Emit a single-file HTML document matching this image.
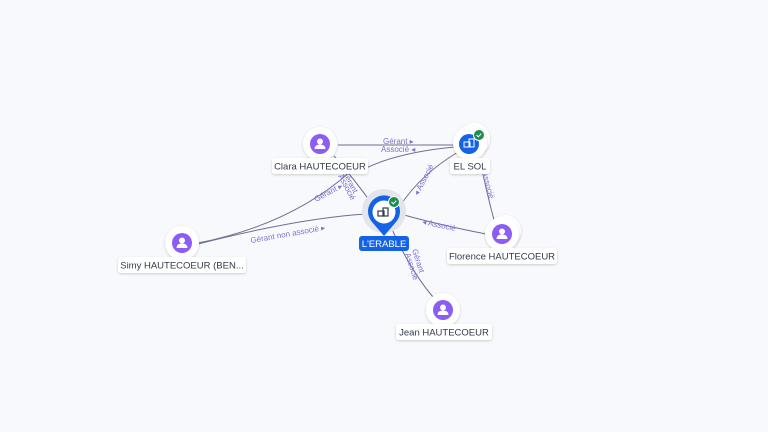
<!DOCTYPE html>
<html><head><meta charset="utf-8"><style>
html,body{margin:0;padding:0;background:#f8f9fc;}
svg{display:block;font-family:"Liberation Sans",sans-serif;}
.el{fill:none;stroke:#6b7090;stroke-width:1;}
.lb{font-size:8px;fill:#7c6fd6;}
.nl{font-size:9.5px;fill:#333a4a;}
</style></head><body>
<svg width="768" height="432" viewBox="0 0 768 432">
<defs>
<filter id="sh" x="-50%" y="-50%" width="200%" height="200%"><feDropShadow dx="0" dy="1" stdDeviation="1.2" flood-color="#000" flood-opacity="0.18"/></filter>
<g id="person"><circle r="17" fill="#fff" filter="url(#sh)"/><circle r="10" fill="#8b5cf6"/><circle cy="-2.5" r="3" fill="#fff"/><path d="M-5.5,5 Q-5.5,0.5 0,0.5 Q5.5,0.5 5.5,5 Z" fill="#fff"/></g>
</defs>
<rect width="768" height="432" fill="#f8f9fc"/>
<!-- edges -->
<path class="el" d="M338,145 L455,145"/>
<path class="el" d="M366,168 Q400,152 455,147"/>
<path class="el" d="M334,156 Q355,180 372,204"/>
<path class="el" d="M198,243 Q290,225 350,172"/>
<path class="el" d="M198,244 Q300,218 366,214"/>
<path class="el" d="M458,152 Q420,175 400,206"/>
<path class="el" d="M480,160 Q486,190 494,220"/>
<path class="el" d="M486,234 Q440,225 404,215"/>
<path class="el" d="M433,297 Q410,270 391,227"/>
<!-- edge labels -->
<text class="lb" x="383" y="144">Gérant ▸</text>
<text class="lb" x="381" y="152">Associé ◂</text>
<text class="lb" transform="translate(342,172) rotate(62)">Gérant</text>
<text class="lb" transform="translate(338,176) rotate(62)">Associé</text>
<text class="lb" transform="translate(316,202) rotate(-28)">Gérant ▸</text>
<text class="lb" x="250" y="238" transform="rotate(-10,280,235)">Gérant non associé ▸</text>
<text class="lb" transform="translate(418,196) rotate(-62)">◂ Associé</text>
<text class="lb" transform="translate(482,172) rotate(75)">Associé</text>
<text class="lb" transform="translate(422,224) rotate(12)">◂ Associé</text>
<text class="lb" transform="translate(412,250) rotate(72)">Gérant</text>
<text class="lb" transform="translate(405,254) rotate(72)">Associé</text>
<!-- Clara -->
<use href="#person" x="320" y="144"/>
<rect x="272" y="158" width="96" height="16" rx="3" fill="#fff" filter="url(#sh)"/>
<text class="nl" x="320" y="169.5" text-anchor="middle">Clara HAUTECOEUR</text>
<!-- EL SOL -->
<circle cx="474" cy="139" r="16" fill="#fff" filter="url(#sh)"/>
<circle cx="470" cy="143" r="17" fill="#fff" filter="url(#sh)"/>
<circle cx="469" cy="144" r="10" fill="#1463e6"/>
<rect x="464" y="142" width="6" height="5" fill="none" stroke="#fff" stroke-width="1"/><rect x="469" y="139" width="5" height="8" fill="none" stroke="#fff" stroke-width="1"/>
<circle cx="479" cy="135" r="5.5" fill="#1e8e4e" stroke="#fff" stroke-width="1"/>
<path d="M476.5,135 l1.8,1.8 l3,-3.2" stroke="#fff" fill="none" stroke-width="1"/>
<rect x="450" y="158" width="40" height="16" rx="3" fill="#fff" filter="url(#sh)"/>
<text class="nl" x="470" y="169.5" text-anchor="middle">EL SOL</text>
<!-- ERABLE -->
<circle cx="384" cy="211" r="22" fill="#e4e5ea"/>
<path d="M384,236 L372,222 A16,16 0 1 1 396,222 Z" fill="#1463e6"/>
<circle cx="384" cy="212" r="11.5" fill="#fff"/>
<rect x="378" y="211" width="6" height="5" fill="none" stroke="#333a4a" stroke-width="1.2"/><rect x="383" y="208" width="5" height="8" fill="none" stroke="#333a4a" stroke-width="1.2"/>
<circle cx="394" cy="202" r="5.5" fill="#1e8e4e" stroke="#fff" stroke-width="1"/>
<path d="M391.5,202 l1.8,1.8 l3,-3.2" stroke="#fff" fill="none" stroke-width="1"/>
<rect x="359" y="236" width="50" height="15" rx="3" fill="#1463e6"/>
<text x="384" y="247" text-anchor="middle" style="font-size:9.5px;fill:#fff">L'ERABLE</text>
<!-- Simy -->
<use href="#person" x="182" y="243"/>
<rect x="118" y="257" width="128" height="16" rx="3" fill="#fff" filter="url(#sh)"/>
<text class="nl" x="182" y="268.5" text-anchor="middle">Simy HAUTECOEUR (BEN...</text>
<!-- Florence -->
<circle cx="505" cy="231" r="16" fill="#fff" filter="url(#sh)"/>
<use href="#person" x="502" y="234"/>
<rect x="447" y="248" width="110" height="16" rx="3" fill="#fff" filter="url(#sh)"/>
<text class="nl" x="502" y="259.5" text-anchor="middle">Florence HAUTECOEUR</text>
<!-- Jean -->
<use href="#person" x="443" y="310"/>
<rect x="396" y="324" width="96" height="16" rx="3" fill="#fff" filter="url(#sh)"/>
<text class="nl" x="444" y="335.5" text-anchor="middle">Jean HAUTECOEUR</text>
</svg>
</body></html>
